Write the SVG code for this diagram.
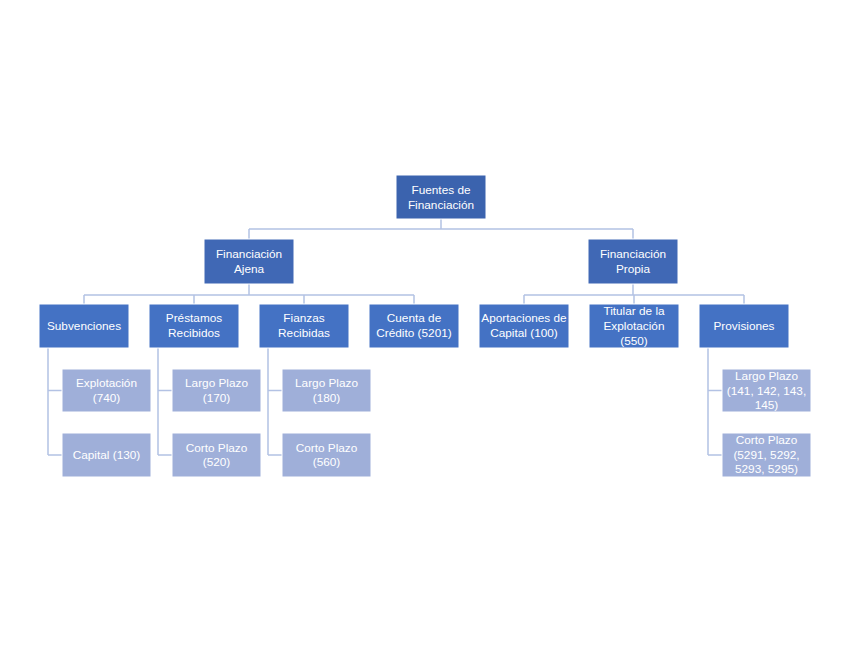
<svg xmlns="http://www.w3.org/2000/svg" width="848" height="655" viewBox="0 0 848 655">
<style>
text{font-family:"Liberation Sans","DejaVu Sans",sans-serif;font-size:11.8px;fill:#ffffff;text-anchor:middle}
.n1{fill:#3B63AE;stroke:#ffffff;stroke-width:1}
.n2{fill:#4068B5;stroke:#ffffff;stroke-width:1}
.n3{fill:#4472C4;stroke:#ffffff;stroke-width:1}
.n4{fill:#9FAFD9;stroke:#ffffff;stroke-width:1}
.c{fill:none;stroke:#B3C2E4;stroke-width:1.5}
</style>
<rect width="848" height="655" fill="#ffffff"/>
<g id="connectors">
<path class="c" d="M441,219V229M249,229H633M249,229V239M633,229V239"/>
<path class="c" d="M249,284V295M84,295H414M84,295V304M194,295V304M304,295V304M414,295V304"/>
<path class="c" d="M633,284V295M524,295H744M524,295V304M634,295V304M744,295V304"/>
<path class="c" d="M48,348V455M48,390.5H62M48,455H62"/>
<path class="c" d="M158,348V455M158,390.5H172M158,455H172"/>
<path class="c" d="M268,348V455M268,390.5H282M268,455H282"/>
<path class="c" d="M708,348V455M708,390.5H722M708,455H722"/>
</g>
<g id="fuentes"><rect class="n1" x="396" y="175" width="90" height="44"/><text x="441" y="194">Fuentes de</text><text x="441" y="209">Financiación</text></g>
<g id="ajena"><rect class="n2" x="204" y="239" width="90" height="45"/><text x="249" y="258">Financiación</text><text x="249" y="273">Ajena</text></g>
<g id="propia"><rect class="n2" x="588" y="239" width="90" height="45"/><text x="633" y="258">Financiación</text><text x="633" y="273">Propia</text></g>
<g id="subvenciones"><rect class="n3" x="39" y="304" width="90" height="44"/><text x="84" y="330">Subvenciones</text></g>
<g id="prestamos"><rect class="n3" x="149" y="304" width="90" height="44"/><text x="194" y="322">Préstamos</text><text x="194" y="337">Recibidos</text></g>
<g id="fianzas"><rect class="n3" x="259" y="304" width="90" height="44"/><text x="304" y="322">Fianzas</text><text x="304" y="337">Recibidas</text></g>
<g id="cuenta"><rect class="n3" x="369" y="304" width="90" height="44"/><text x="414" y="322">Cuenta de</text><text x="414" y="337">Crédito (5201)</text></g>
<g id="aportaciones"><rect class="n3" x="479" y="304" width="90" height="44"/><text x="524" y="322">Aportaciones de</text><text x="524" y="337">Capital (100)</text></g>
<g id="titular"><rect class="n3" x="589" y="304" width="90" height="44"/><text x="634" y="315">Titular de la</text><text x="634" y="330">Explotación</text><text x="634" y="345">(550)</text></g>
<g id="provisiones"><rect class="n3" x="699" y="304" width="90" height="44"/><text x="744" y="330">Provisiones</text></g>
<g id="explotacion"><rect class="n4" x="62" y="369" width="89" height="43"/><text x="106.5" y="387">Explotación</text><text x="106.5" y="401.5">(740)</text></g>
<g id="capital"><rect class="n4" x="62" y="433" width="89" height="44"/><text x="106.5" y="459">Capital (130)</text></g>
<g id="largo170"><rect class="n4" x="172" y="369" width="89" height="43"/><text x="216.5" y="387">Largo Plazo</text><text x="216.5" y="401.5">(170)</text></g>
<g id="corto520"><rect class="n4" x="172" y="433" width="89" height="44"/><text x="216.5" y="451.5">Corto Plazo</text><text x="216.5" y="466">(520)</text></g>
<g id="largo180"><rect class="n4" x="282" y="369" width="89" height="43"/><text x="326.5" y="387">Largo Plazo</text><text x="326.5" y="401.5">(180)</text></g>
<g id="corto560"><rect class="n4" x="282" y="433" width="89" height="44"/><text x="326.5" y="451.5">Corto Plazo</text><text x="326.5" y="466">(560)</text></g>
<g id="largoprov"><rect class="n4" x="722" y="369" width="89" height="43"/><text x="766.5" y="380">Largo Plazo</text><text x="766.5" y="394.5">(141, 142, 143,</text><text x="766.5" y="409">145)</text></g>
<g id="cortoprov"><rect class="n4" x="722" y="433" width="89" height="44"/><text x="766.5" y="444">Corto Plazo</text><text x="766.5" y="458.5">(5291, 5292,</text><text x="766.5" y="473">5293, 5295)</text></g>
</svg>
